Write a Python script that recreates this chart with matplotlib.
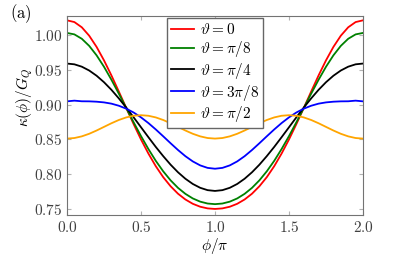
import matplotlib
matplotlib.use('Agg')
import matplotlib.pyplot as plt
from matplotlib.ticker import FuncFormatter

plt.rcParams['mathtext.fontset'] = 'cm'
plt.rcParams['font.family'] = 'serif'
plt.rcParams['font.serif'] = ['DejaVu Serif']

# phi/pi from 0 to 2 in steps of 0.05
x = [i * 0.05 for i in range(41)]

theta0 = [1.0211, 1.0186, 1.0111, 0.9990, 0.9829, 0.9636, 0.9420, 0.9189, 0.8953, 0.8721, 0.8500,
          0.8297, 0.8115, 0.7958, 0.7827, 0.7720, 0.7637, 0.7575, 0.7533, 0.7509, 0.7501,
          0.7509, 0.7533, 0.7575, 0.7637, 0.7720, 0.7827, 0.7958, 0.8115, 0.8297, 0.8500,
          0.8721, 0.8953, 0.9189, 0.9420, 0.9636, 0.9829, 0.9990, 1.0111, 1.0186, 1.0211]
theta1 = [1.0030, 1.0009, 0.9946, 0.9844, 0.9708, 0.9544, 0.9358, 0.9158, 0.8952, 0.8747, 0.8548,
          0.8362, 0.8192, 0.8042, 0.7912, 0.7804, 0.7718, 0.7652, 0.7606, 0.7579, 0.7570,
          0.7579, 0.7606, 0.7652, 0.7718, 0.7804, 0.7912, 0.8042, 0.8192, 0.8362, 0.8548,
          0.8747, 0.8952, 0.9158, 0.9358, 0.9544, 0.9708, 0.9844, 0.9946, 1.0009, 1.0030]
theta2 = [0.9590, 0.9579, 0.9545, 0.9490, 0.9415, 0.9322, 0.9213, 0.9090, 0.8958, 0.8818, 0.8675,
          0.8532, 0.8392, 0.8260, 0.8137, 0.8028, 0.7935, 0.7860, 0.7805, 0.7771, 0.7760,
          0.7771, 0.7805, 0.7860, 0.7935, 0.8028, 0.8137, 0.8260, 0.8392, 0.8532, 0.8675,
          0.8818, 0.8958, 0.9090, 0.9213, 0.9322, 0.9415, 0.9490, 0.9545, 0.9579, 0.9590]
theta3 = [0.9047, 0.9057, 0.9048, 0.9047, 0.9042, 0.9032, 0.9014, 0.8984, 0.8942, 0.8887, 0.8817,
          0.8735, 0.8643, 0.8545, 0.8445, 0.8348, 0.8259, 0.8184, 0.8127, 0.8091, 0.8079,
          0.8091, 0.8127, 0.8184, 0.8259, 0.8348, 0.8445, 0.8545, 0.8643, 0.8735, 0.8817,
          0.8887, 0.8942, 0.8984, 0.9014, 0.9032, 0.9042, 0.9047, 0.9048, 0.9057, 0.9047]
theta4 = [0.8512, 0.8520, 0.8544, 0.8581, 0.8628, 0.8680, 0.8732, 0.8779, 0.8816, 0.8840, 0.8848,
          0.8840, 0.8816, 0.8779, 0.8732, 0.8680, 0.8628, 0.8581, 0.8544, 0.8520, 0.8512,
          0.8520, 0.8544, 0.8581, 0.8628, 0.8680, 0.8732, 0.8779, 0.8816, 0.8840, 0.8848,
          0.8840, 0.8816, 0.8779, 0.8732, 0.8680, 0.8628, 0.8581, 0.8544, 0.8520, 0.8512]

series = [theta0, theta1, theta2, theta3, theta4]
labels = [r'$\vartheta = 0$', r'$\vartheta = \pi/8$', r'$\vartheta = \pi/4$',
          r'$\vartheta = 3\pi/8$', r'$\vartheta = \pi/2$']
colors = ['#ff0000', '#008000', '#000000', '#0000ff', '#ffa500']

fig = plt.figure(figsize=(3.95, 2.66), dpi=100)
ax = fig.add_axes([0.1696, 0.1917, 0.7494, 0.7481])

for y, lab, col in zip(series, labels, colors):
    ax.plot(x, y, color=col, lw=1.3, label=lab)

ax.set_xlim(0, 2)
ax.set_ylim(0.7414, 1.0273)
ax.set_xticks([0.0, 0.5, 1.0, 1.5, 2.0])
ax.set_yticks([0.75, 0.80, 0.85, 0.90, 0.95, 1.00])
ax.xaxis.set_major_formatter(FuncFormatter(lambda v, p: r'$%.1f$' % v))
ax.yaxis.set_major_formatter(FuncFormatter(lambda v, p: r'$%.2f$' % v))
ax.tick_params(direction='in', top=True, right=True, length=3, color='0.7',
               labelsize=11, labelcolor='0.25', pad=3.5)
for s in ax.spines.values():
    s.set_color('0.45')

ax.set_xlabel(r'$\phi/\pi$', fontsize=11, labelpad=1)
ax.set_ylabel(r'$\kappa(\phi)/G_Q$', fontsize=11)
ax.yaxis.set_label_coords(-0.108, 0.59)

leg = ax.legend(loc='upper center', fontsize=11, handlelength=1.5, labelspacing=0.12,
                borderpad=0.25, handletextpad=0.4, borderaxespad=0.15, fancybox=False,
                framealpha=1)
leg.get_frame().set_edgecolor('0.4')

fig.text(0.053, 0.95, r'$\mathrm{(a)}$', fontsize=12, ha='center', va='center')

fig.savefig('out.png', dpi=100)
